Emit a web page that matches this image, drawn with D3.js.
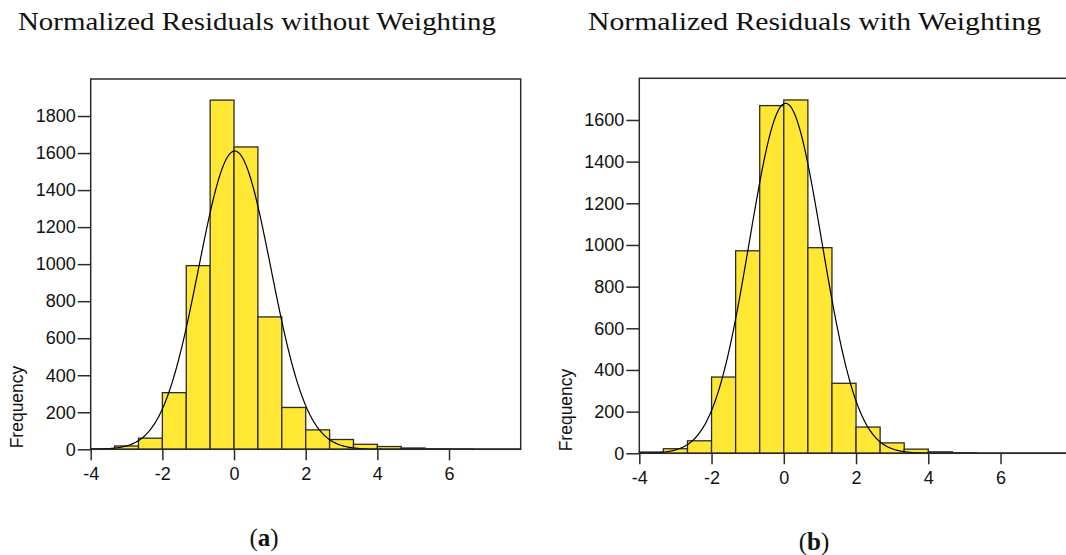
<!DOCTYPE html>
<html>
<head>
<meta charset="utf-8">
<script src="https://cdn.jsdelivr.net/npm/d3@7"></script>
<style>
  html, body { margin: 0; padding: 0; background: #fff; }
  svg { display: block; }
</style>
</head>
<body>
<svg id="chart" width="1066" height="555"></svg>
<script>
// ---- data ----
const binStart = -4;
const binWidth = 2 / 3;
const countsUnweighted = [2, 18, 60, 306, 992, 1886, 1633, 715, 226, 105, 53, 27, 15, 7, 2, 1];
const countsWeighted   = [6, 22, 60, 366, 972, 1669, 1696, 987, 336, 126, 50, 20, 7, 2];
const xTicks = [-4, -2, 0, 2, 4, 6];
const yTicksUnweighted = [0, 200, 400, 600, 800, 1000, 1200, 1400, 1600, 1800];
const yTicksWeighted = [0, 200, 400, 600, 800, 1000, 1200, 1400, 1600];
const titles = ["Normalized Residuals without Weighting", "Normalized Residuals with Weighting"];
const captions = ["a", "b"];
const yLabel = "Frequency";
// fitted normal curve parameters (mean, sd, peak height)
const fitUnweighted = { mean: 0.02, sd: 1.01, peak: 1611 };
const fitWeighted   = { mean: 0.05, sd: 1.0,  peak: 1680 };

const svg = d3.select("#chart");
const fillColor = "#FFE733";
const strokeColor = "#2b2b2b";
const axisFont = "'Liberation Sans', Arial, sans-serif";
const serifFont = "'Liberation Serif', 'Times New Roman', serif";

const panels = [
  { counts: countsUnweighted, yTicks: yTicksUnweighted, yMax: 2000, fit: fitUnweighted,
    x0: 90.7, x1: 520.7, y0: 449.3, y1: 79, title: titles[0], titleX: 18, titleW: 478,
    capX: 264, capY: 546, labelX: 23, labelY: 407 },
  { counts: countsWeighted, yTicks: yTicksWeighted, yMax: 1800, fit: fitWeighted,
    x0: 639.3, x1: 1072.8, y0: 453.3, y1: 78.3, title: titles[1], titleX: 588, titleW: 453,
    capX: 814, capY: 550, labelX: 572, labelY: 410 }
];

panels.forEach((p, pi) => {
  const x = d3.scaleLinear().domain([-4, 8]).range([p.x0, p.x1]);
  const y = d3.scaleLinear().domain([0, p.yMax]).range([p.y0, p.y1]);
  const g = svg.append("g");

  // title
  g.append("text")
    .attr("x", p.titleX).attr("y", 30)
    .attr("textLength", p.titleW).attr("lengthAdjust", "spacingAndGlyphs")
    .style("font-family", serifFont).style("font-size", "26px").style("fill", "#111")
    .text(p.title);

  // frame
  g.append("rect")
    .attr("x", p.x0).attr("y", p.y1)
    .attr("width", p.x1 - p.x0).attr("height", p.y0 - p.y1)
    .attr("fill", "none").attr("stroke", strokeColor).attr("stroke-width", 1.5);

  // bars
  g.append("g").selectAll("rect").data(p.counts).join("rect")
    .attr("x", (d, i) => x(binStart + i * binWidth))
    .attr("width", (d, i) => x(binStart + (i + 1) * binWidth) - x(binStart + i * binWidth))
    .attr("y", d => y(d))
    .attr("height", d => y(0) - y(d))
    .attr("fill", fillColor)
    .attr("stroke", strokeColor).attr("stroke-width", 1.3);

  // fitted normal curve
  const f = p.fit;
  const curvePts = d3.range(-4, 8.001, 0.02).map(v => [v, f.peak * Math.exp(-0.5 * Math.pow((v - f.mean) / f.sd, 2))]);
  g.append("path")
    .datum(curvePts)
    .attr("d", d3.line().x(d => x(d[0])).y(d => y(d[1])))
    .attr("fill", "none").attr("stroke", "#000").attr("stroke-width", 1.2);

  // axes
  const yAxis = d3.axisLeft(y).tickValues(p.yTicks).tickSize(13).tickPadding(2).tickFormat(d => String(d));
  const ya = g.append("g").attr("transform", `translate(${p.x0},0)`).call(yAxis);
  const xAxis = d3.axisBottom(x).tickValues(xTicks).tickSize(11).tickPadding(7).tickFormat(d => String(d));
  const xa = g.append("g").attr("transform", `translate(0,${p.y0})`).call(xAxis);
  [ya, xa].forEach(a => {
    a.select(".domain").remove();
    a.selectAll(".tick line").attr("stroke", strokeColor).attr("stroke-width", 1.5);
    a.selectAll(".tick text").style("font-family", axisFont).style("font-size", "18px").attr("fill", "#111");
  });
  // bottom axis line along the baseline
  g.append("line").attr("x1", p.x0).attr("x2", p.x1).attr("y1", p.y0).attr("y2", p.y0)
    .attr("stroke", strokeColor).attr("stroke-width", 1.5);

  // y label
  g.append("text")
    .attr("transform", `translate(${p.labelX},${p.labelY}) rotate(-90)`)
    .attr("text-anchor", "middle")
    .style("font-family", axisFont).style("font-size", "17.5px").style("fill", "#111")
    .text(yLabel);

  // caption
  const cap = g.append("text")
    .attr("x", p.capX).attr("y", p.capY).attr("text-anchor", "middle")
    .style("font-family", serifFont).style("font-size", "25px").style("fill", "#111");
  cap.append("tspan").text("(");
  cap.append("tspan").style("font-weight", "bold").text(captions[pi]);
  cap.append("tspan").text(")");
});
</script>
</body>
</html>
